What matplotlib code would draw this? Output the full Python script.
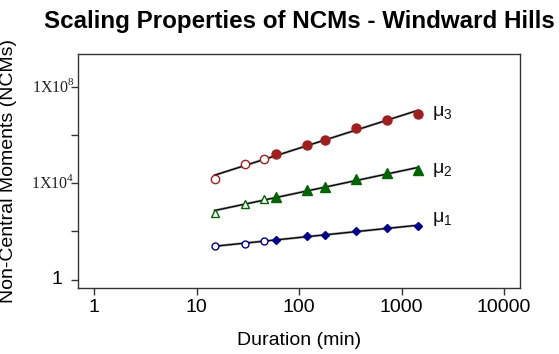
import matplotlib
matplotlib.use('Agg')
import matplotlib.pyplot as plt
import matplotlib.transforms as mtransforms
import numpy as np

plt.rcParams['font.family'] = ['Liberation Sans', 'DejaVu Sans']

# durations (min) and log10 of the non-central moments
duration = [15, 30, 45, 60, 120, 180, 360, 720, 1440]
log_mu1 = [1.38, 1.49, 1.59, 1.66, 1.80, 1.87, 2.00, 2.14, 2.22]
log_mu2 = [2.76, 3.15, 3.34, 3.43, 3.71, 3.84, 4.17, 4.42, 4.54]
log_mu3 = [4.19, 4.78, 5.02, 5.19, 5.57, 5.81, 6.29, 6.64, 6.89]
n_open = 3  # first three durations drawn with hollow markers

xticks = [1, 10, 100, 1000, 10000]
xtick_labels = ['1', '10', '100', '1000', '10000']
yticks_major = [1, 1e4, 1e8]
yticks_minor = [1e2, 1e6]

fig = plt.figure(figsize=(5.59, 3.54), dpi=100)
ax = fig.add_axes([0.139, 0.1856, 0.792, 0.662])
ax.set_xscale('log')
ax.set_yscale('log')
ax.set_xlim(10 ** -0.16, 10 ** 4.16)
ax.set_ylim(10 ** -0.36, 10 ** 9.36)

x = np.array(duration, dtype=float)
# (values, colour, open marker, open size, filled marker, filled size)
series = [
    (log_mu3, '#a01e1e', 'o', 6.0, 'o', 6.5),
    (log_mu2, '#006400', '^', 6.0, '^', 6.5),
    (log_mu1, '#00008b', 'o', 5.0, 'D', 4.2),
]
labels = [r'μ$_{\mathregular{3}}$', r'μ$_{\mathregular{2}}$', r'μ$_{\mathregular{1}}$']
label_y = [6.9, 4.55, 2.5]

for (ly, col, mk_o, ms_o, mk_f, ms_f), lab, lyy in zip(series, labels, label_y):
    y = 10 ** np.array(ly)
    # fitted power law line
    p = np.polyfit(np.log10(x), ly, 1)
    xf = np.array([x[0], x[-1]])
    yf = 10 ** np.polyval(p, np.log10(xf))
    ax.plot(xf, yf, color='#999999', lw=1.8, zorder=2)
    ax.plot(xf, yf, color='black', lw=0.9, zorder=3)
    ax.plot(x[:n_open], y[:n_open], linestyle='none', marker=mk_o, ms=ms_o,
            mfc='white', mec=col, mew=1.0, zorder=4)
    ax.plot(x[n_open:], y[n_open:], linestyle='none', marker=mk_f, ms=ms_f, mfc=col, mec=col, zorder=4)
    ax.text(2000, 10 ** lyy, lab, fontsize=14, va='center', ha='left', color='#111111')

ax.set_xticks(xticks)
ax.set_xticklabels(xtick_labels, fontsize=14)
ax.xaxis.set_minor_locator(matplotlib.ticker.NullLocator())
ax.set_yticks(yticks_major + yticks_minor)
ax.set_yticklabels([])
ax.yaxis.set_minor_locator(matplotlib.ticker.NullLocator())
ax.tick_params(axis='both', direction='out', length=5, width=1, color='#333333', pad=3)

# y tick labels drawn by hand (mixed fonts as in the original)
trans = mtransforms.blended_transform_factory(ax.transAxes, ax.transData)
ax.text(-0.035, 1, '1', transform=trans, fontsize=14, ha='right', va='center')
ax.text(-0.007, 1e4, r'1X10$^{\mathregular{4}}$', transform=trans, fontsize=11.5,
        family='Liberation Serif', ha='right', va='center', color='#222222')
ax.text(-0.007, 1e8, r'1X10$^{\mathregular{8}}$', transform=trans, fontsize=11.5,
        family='Liberation Serif', ha='right', va='center', color='#222222')

for s in ax.spines.values():
    s.set_color('#333333')
    s.set_linewidth(1.0)

ax.set_xlabel('Duration (min)', fontsize=14, labelpad=11)
ax.set_ylabel('Non-Central Moments (NCMs)', fontsize=14, labelpad=36)
ax.set_title('Scaling Properties of NCMs - Windward Hills', fontsize=17.4, fontweight='bold', pad=19)

fig.savefig('out.png', dpi=100)
